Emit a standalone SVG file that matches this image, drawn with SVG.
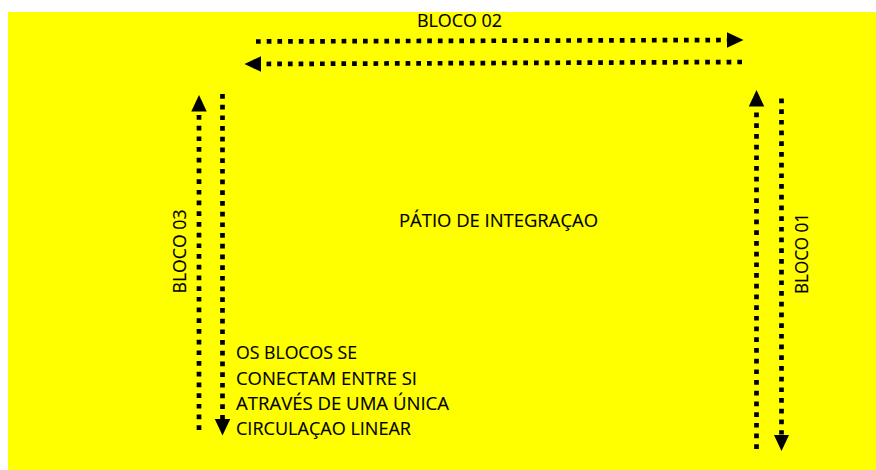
<svg xmlns="http://www.w3.org/2000/svg" width="876" height="470" viewBox="0 0 876 470">
  <style>
    .lbl { font-family: "Open Sans", "Liberation Sans", sans-serif; font-size: 18px; fill: #000; stroke: #000; stroke-width: 0.15; }
    .conn { fill: none; stroke: #000; stroke-width: 4.7; stroke-dasharray: 4.7 6; }
  </style>
  <defs>
    <marker id="ah" markerUnits="userSpaceOnUse" markerWidth="17" markerHeight="16" refX="0" refY="7.75" orient="auto">
      <path d="M0,0 L16.5,7.75 L0,15.5 z" fill="#000"/>
    </marker>
  </defs>
  <rect x="8" y="12" width="868" height="458" fill="#ffff00"/>
  <g id="connectors">
    <line class="conn" x1="256" y1="41.5" x2="727" y2="40" marker-end="url(#ah)"/>
    <line class="conn" x1="742" y1="62" x2="261" y2="64" marker-end="url(#ah)"/>
    <line class="conn" x1="199" y1="430" x2="199" y2="111.5" marker-end="url(#ah)"/>
    <line class="conn" x1="222.5" y1="94" x2="222.5" y2="419" marker-end="url(#ah)"/>
    <line class="conn" x1="756.5" y1="449" x2="756.5" y2="106.5" marker-end="url(#ah)"/>
    <line class="conn" x1="781.5" y1="98.5" x2="781.5" y2="434.5" marker-end="url(#ah)"/>
  </g>
  <g id="bloco02">
    <text class="lbl" x="417" y="26.5" textLength="85" lengthAdjust="spacingAndGlyphs">BLOCO 02</text>
  </g>
  <g id="patio">
    <text class="lbl" x="399" y="226.5" textLength="199" lengthAdjust="spacingAndGlyphs">PÁTIO DE INTEGRAÇAO</text>
  </g>
  <g id="bloco03">
    <text class="lbl" transform="translate(185.5,293.5) rotate(-90)" x="0" y="0" textLength="84" lengthAdjust="spacingAndGlyphs">BLOCO 03</text>
  </g>
  <g id="bloco01">
    <text class="lbl" transform="translate(808,294) rotate(-90)" x="0" y="0" textLength="81" lengthAdjust="spacingAndGlyphs">BLOCO 01</text>
  </g>
  <g id="nota">
    <text class="lbl" x="236" y="358.5" textLength="121" lengthAdjust="spacingAndGlyphs">OS BLOCOS SE</text>
    <text class="lbl" x="236" y="384.5" textLength="181" lengthAdjust="spacingAndGlyphs">CONECTAM ENTRE SI</text>
    <text class="lbl" x="236" y="410" textLength="213" lengthAdjust="spacingAndGlyphs">ATRAVÉS DE UMA ÚNICA</text>
    <text class="lbl" x="236" y="434.5" textLength="175" lengthAdjust="spacingAndGlyphs">CIRCULAÇAO LINEAR</text>
  </g>
</svg>
